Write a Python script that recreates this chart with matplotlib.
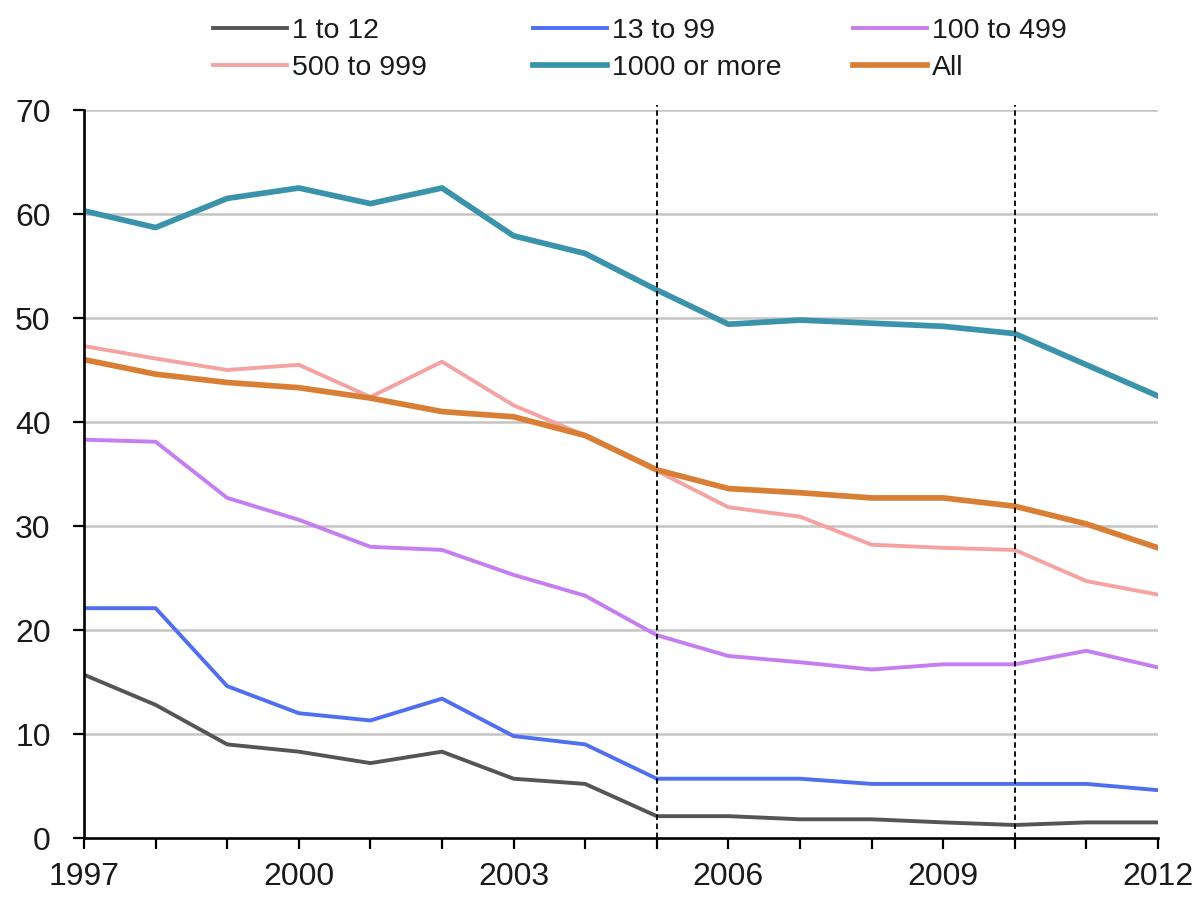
import matplotlib
matplotlib.use("Agg")
import matplotlib.pyplot as plt

years = list(range(1997, 2013))
s_1_12 = [15.7, 12.8, 9.0, 8.3, 7.2, 8.3, 5.7, 5.2, 2.1, 2.1, 1.8, 1.8, 1.5, 1.25, 1.5, 1.5]
s_13_99 = [22.1, 22.1, 14.6, 12.0, 11.3, 13.4, 9.8, 9.0, 5.7, 5.7, 5.7, 5.2, 5.2, 5.2, 5.2, 4.6]
s_100_499 = [38.3, 38.1, 32.7, 30.6, 28.0, 27.7, 25.3, 23.3, 19.5, 17.5, 16.9, 16.2, 16.7, 16.7, 18.0, 16.4]
s_500_999 = [47.3, 46.1, 45.0, 45.5, 42.4, 45.8, 41.6, 38.7, 35.3, 31.8, 30.9, 28.2, 27.9, 27.7, 24.7, 23.4]
s_1000 = [60.3, 58.7, 61.5, 62.5, 61.0, 62.5, 57.9, 56.2, 52.7, 49.4, 49.8, 49.5, 49.2, 48.5, 45.5, 42.5]
s_all = [46.0, 44.6, 43.8, 43.3, 42.3, 41.0, 40.5, 38.7, 35.4, 33.6, 33.2, 32.7, 32.7, 31.9, 30.2, 27.9]
labels = ["1 to 12", "13 to 99", "100 to 499", "500 to 999", "1000 or more", "All"]
marker_years = [2005, 2010]
y_ticks = [0, 10, 20, 30, 40, 50, 60, 70]
x_label_years = [1997, 2000, 2003, 2006, 2009, 2012]

plt.rcParams['font.family'] = ['Liberation Sans', 'DejaVu Sans']

fig = plt.figure(figsize=(11.95, 8.99), dpi=100)
ax = fig.add_axes([84/1195, 61/899, (1158-84)/1195, (838-110)/899])

series = [s_1_12, s_13_99, s_100_499, s_500_999, s_1000, s_all]
colors = ["#555555", "#4f6ff0", "#c47ef0", "#f4a2a2", "#3a93aa", "#d97f35"]
widths = [2.8, 2.8, 2.8, 2.8, 4.1, 4.1]
order = [3, 2, 1, 0, 5, 4]
handles = {}
for i in order:
    ln, = ax.plot(years, series[i], color=colors[i], lw=widths[i], label=labels[i],
                  zorder=3 + (1 if i >= 4 else 0))
    handles[i] = ln

for yv in y_ticks[1:]:
    ax.axhline(yv, color="#c4c4c4", lw=1.8, zorder=1)
for xv in marker_years:
    ax.plot([xv, xv], [0, 70.5], color="black", lw=1.3, ls=(0, (3, 2)), zorder=5, clip_on=False)

ax.set_xlim(1997, 2012)
ax.set_ylim(0, 70)
ax.set_xticks(years)
ax.set_xticklabels([str(y) if y in x_label_years else "" for y in years])
ax.set_yticks(y_ticks)
ax.tick_params(axis='both', direction='out', length=8, width=1.6, color='black',
               labelsize=23, labelcolor='#1a1a1a')
ax.tick_params(axis='x', pad=9)
ax.tick_params(axis='y', pad=16)
for sp in ['top', 'right']:
    ax.spines[sp].set_visible(False)
for sp in ['left', 'bottom']:
    ax.spines[sp].set_linewidth(1.9)
    ax.spines[sp].set_zorder(6)

cols = [(0, 3, 213), (1, 4, 533), (2, 5, 853)]
for a, b, xpx in cols:
    leg = fig.legend([handles[a], handles[b]], [labels[a], labels[b]],
                     loc='upper left', bbox_to_anchor=(xpx/1195, 1 - 18/899),
                     frameon=False, fontsize=20.5, handlelength=2.6, handletextpad=0.18,
                     labelspacing=0.4, borderaxespad=0, borderpad=0)
    for t in leg.get_texts():
        t.set_color('#1a1a1a')

fig.savefig("out.png", dpi=100)
